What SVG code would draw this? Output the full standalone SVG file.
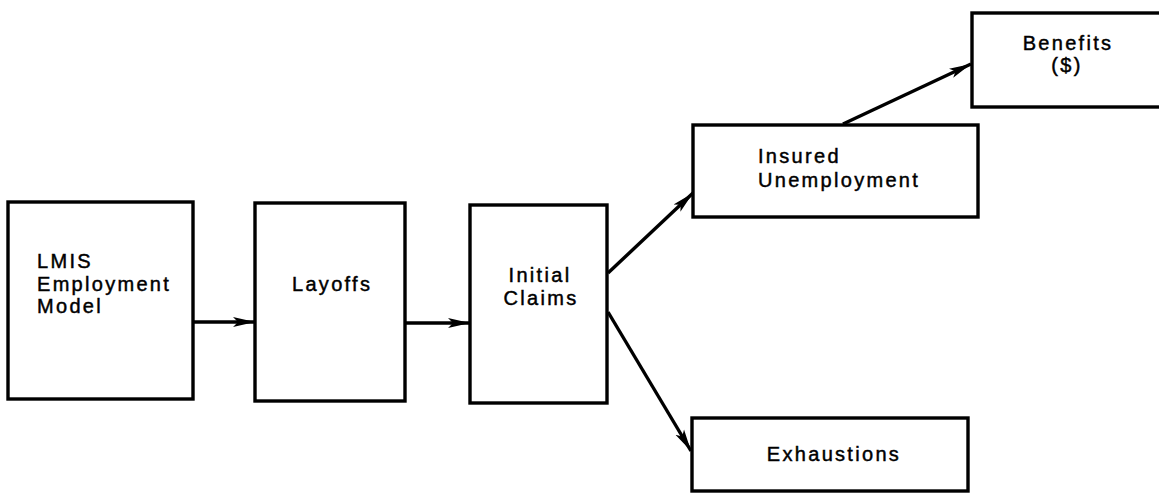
<svg xmlns="http://www.w3.org/2000/svg" width="1159" height="493" viewBox="0 0 1159 493">
  <defs>
    <marker id="arrow" markerUnits="userSpaceOnUse" markerWidth="24" markerHeight="12" refX="22" refY="6" orient="auto">
      <path d="M0,1 L22,6 L0,11 L5,6 z" fill="#000"/>
    </marker>
    <style>
      .box { fill: #fff; stroke: #000; stroke-width: 3.4; }
      .lbl { font-family: "Liberation Sans", Arial, sans-serif; font-size: 20px; letter-spacing: 2.3px; fill: #000; stroke: #000; stroke-width: 0.45px; }
      .mid { text-anchor: middle; }
      .conn { stroke: #000; stroke-width: 3.4; fill: none; marker-end: url(#arrow); }
    </style>
  </defs>
  <rect width="1159" height="493" fill="#fff"/>

  <g id="connectors">
    <line class="conn" x1="193" y1="322" x2="255" y2="322"/>
    <line class="conn" x1="405" y1="323" x2="470" y2="323"/>
    <line class="conn" x1="608" y1="273" x2="693" y2="193"/>
    <line class="conn" x1="608" y1="312" x2="691" y2="451"/>
    <line class="conn" x1="843" y1="124" x2="971" y2="64"/>
  </g>

  <g id="node-lmis">
    <rect class="box" x="8" y="202" width="185" height="197"/>
    <text class="lbl" x="37" y="268">LMIS</text>
    <text class="lbl" x="37" y="291">Employment</text>
    <text class="lbl" x="37" y="313">Model</text>
  </g>

  <g id="node-layoffs">
    <rect class="box" x="255" y="203" width="150" height="198"/>
    <text class="lbl" x="292" y="291">Layoffs</text>
  </g>

  <g id="node-initial-claims">
    <rect class="box" x="470" y="205" width="137" height="198"/>
    <text class="lbl mid" x="540" y="282">Initial</text>
    <text class="lbl mid" x="541" y="305">Claims</text>
  </g>

  <g id="node-insured">
    <rect class="box" x="693" y="125" width="285" height="92"/>
    <text class="lbl" x="758" y="163">Insured</text>
    <text class="lbl" x="758" y="187">Unemployment</text>
  </g>

  <g id="node-benefits">
    <rect class="box" x="972" y="13" width="200" height="94"/>
    <text class="lbl mid" x="1068" y="50">Benefits</text>
    <text class="lbl mid" x="1067" y="72">($)</text>
  </g>

  <g id="node-exhaustions">
    <rect class="box" x="692" y="418" width="276" height="73"/>
    <text class="lbl mid" x="834" y="461">Exhaustions</text>
  </g>
</svg>
